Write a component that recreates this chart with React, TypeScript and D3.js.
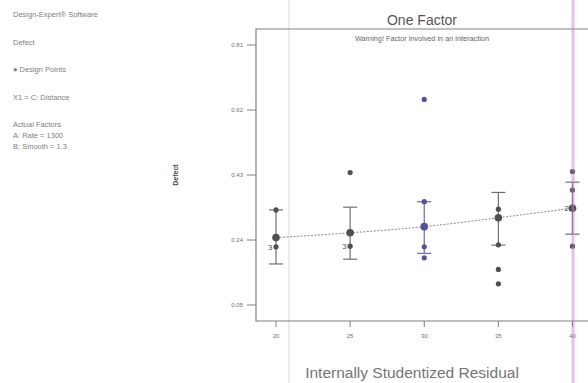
import React from "react";
import * as d3 from "d3";

const W = 588;
const H = 383;

const levels = [20, 25, 30, 35, 40];
const predicted = [0.247, 0.261, 0.279, 0.305, 0.333];
const lowerCI = [0.17, 0.184, 0.201, 0.225, 0.257];
const upperCI = [0.328, 0.336, 0.352, 0.379, 0.409];
const yTicks = [0.05, 0.24, 0.43, 0.62, 0.81];

// design points: distance, defect, replicate count
const pointX = [20, 20, 25, 25, 30, 30, 30, 30, 35, 35, 35, 35, 40, 40, 40, 40];
const pointY = [0.328, 0.22, 0.437, 0.222, 0.651, 0.352, 0.22, 0.188, 0.33, 0.226, 0.154, 0.112, 0.44, 0.386, 0.333, 0.222];
const pointN = [1, 3, 1, 3, 1, 1, 1, 1, 1, 1, 1, 1, 1, 1, 2, 1];

const legendLines = [
  "Design-Expert® Software",
  "Defect",
  "● Design Points",
  "X1 = C: Distance",
  "Actual Factors",
  "A: Rate = 1300",
  "B: Smooth = 1.3",
];
const legendY = [17, 45, 72, 100, 127, 138, 149];

const FRAME = { left: 256, top: 29, bottom: 321 };
const DARK = "#505050";
const BLUE = "#5050a8";

const App = () => {
  const x = d3.scaleLinear().domain([20, 40]).range([276, 572.5]);
  const y = d3.scaleLinear().domain([0.05, 0.81]).range([305, 45]);

  const line = d3
    .line<number>()
    .x((d, i) => x(levels[i]))
    .y((d) => y(d))
    .curve(d3.curveMonotoneX);

  const colorAt = (lv: number) => (lv === 30 ? BLUE : DARK);

  return (
    <svg
      width={W}
      height={H}
      style={{ position: "absolute", left: 0, top: 0, background: "#fff" }}
      fontFamily="'Liberation Sans', Arial, sans-serif"
    >
      {/* faint screen artefact line */}
      <line x1={289} x2={289} y1={0} y2={H} stroke="#ececec" strokeWidth={2} />

      {/* legend block */}
      {legendLines.map((t, i) => (
        <text key={t} x={13} y={legendY[i]} fontSize={7.5} fill="#808080">
          {t}
        </text>
      ))}

      {/* titles */}
      <text x={422} y={25} textAnchor="middle" fontSize={14} fill="#555">
        One Factor
      </text>
      <text x={422} y={41} textAnchor="middle" fontSize={7.3} fill="#666">
        Warning! Factor involved in an interaction
      </text>
      <text
        transform={`translate(178,${(FRAME.top + FRAME.bottom) / 2}) rotate(-90)`}
        textAnchor="middle"
        fontSize={7}
        fontWeight="bold"
        fill="#444"
      >
        Defect
      </text>
      <text x={412} y={378} textAnchor="middle" fontSize={15.5} fill="#757575">
        Internally Studentized Residual
      </text>

      {/* frame */}
      <path
        d={`M${W},${FRAME.top}H${FRAME.left}V${FRAME.bottom}H${W}`}
        fill="none"
        stroke="#808080"
        strokeWidth={1.2}
      />

      {/* y axis ticks */}
      {yTicks.map((t) => (
        <g key={t}>
          <line x1={247} x2={FRAME.left} y1={y(t)} y2={y(t)} stroke="#808080" />
          <text x={243} y={y(t) + 2} textAnchor="end" fontSize={6} fill="#707070">
            {t.toFixed(2)}
          </text>
        </g>
      ))}

      {/* x axis ticks */}
      {levels.map((t) => (
        <g key={t}>
          <line x1={x(t)} x2={x(t)} y1={FRAME.bottom} y2={FRAME.bottom + 6} stroke="#808080" />
          <text x={x(t)} y={338} textAnchor="middle" fontSize={6} fill="#707070">
            {t}
          </text>
        </g>
      ))}

      {/* prediction line */}
      <path
        d={line(predicted) || ""}
        fill="none"
        stroke="#8a8a8a"
        strokeWidth={1}
        strokeDasharray="2,1.5"
      />

      {/* confidence bars */}
      {levels.map((lv, i) => (
        <g key={lv} stroke={lv === 30 ? "#6a6ab0" : "#707070"} strokeWidth={1.2}>
          <line x1={x(lv)} x2={x(lv)} y1={y(upperCI[i])} y2={y(lowerCI[i])} />
          <line x1={x(lv) - 7} x2={x(lv) + 7} y1={y(upperCI[i])} y2={y(upperCI[i])} />
          <line x1={x(lv) - 7} x2={x(lv) + 7} y1={y(lowerCI[i])} y2={y(lowerCI[i])} />
        </g>
      ))}

      {/* predicted means */}
      {levels.map((lv, i) => (
        <circle key={lv} cx={x(lv)} cy={y(predicted[i])} r={3.8} fill={colorAt(lv)} />
      ))}

      {/* design points */}
      {pointX.map((lv, i) => (
        <g key={i}>
          <circle cx={x(lv)} cy={y(pointY[i])} r={2.6} fill={colorAt(lv)} />
          {pointN[i] > 1 && (
            <text x={x(lv) - 3.5} y={y(pointY[i]) + 3} textAnchor="end" fontSize={8} fill="#505050">
              {pointN[i]}
            </text>
          )}
        </g>
      ))}

      {/* pink screen artefact line */}
      <line x1={573} x2={573} y1={0} y2={H} stroke="#d070d0" strokeWidth={3} opacity={0.45} />
    </svg>
  );
};

export default App;
